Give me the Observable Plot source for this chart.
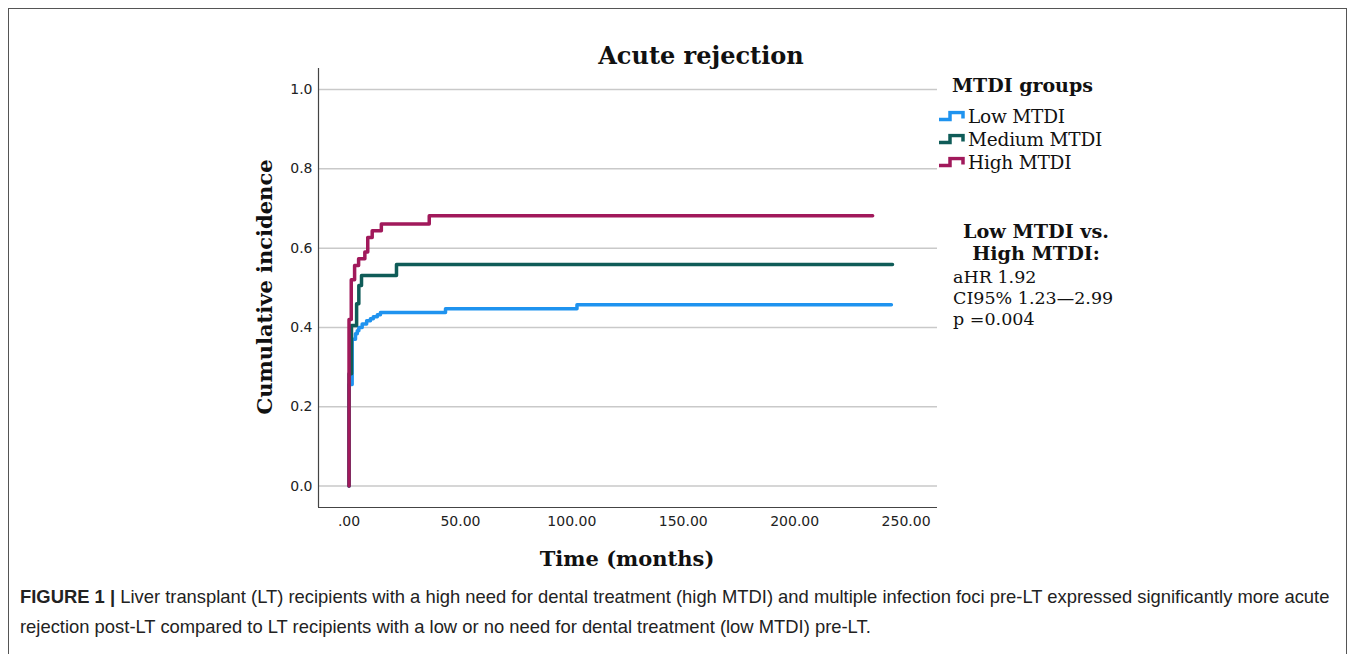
<!DOCTYPE html>
<html><head><meta charset="utf-8">
<script src="https://cdn.jsdelivr.net/npm/d3@7"></script>
<script src="https://cdn.jsdelivr.net/npm/@observablehq/plot@0.6"></script>
<style>
body{margin:0;background:#fff;}
#wrap{position:relative;width:1355px;height:654px;overflow:hidden;background:#fff;}
#frame{position:absolute;left:8px;top:8px;width:1339px;height:700px;border:1.5px solid #555;box-sizing:border-box;}
#chart{position:absolute;left:0;top:0;}
.serif{font-family:"DejaVu Serif",serif;color:#111;position:absolute;white-space:nowrap;}
#title{left:701px;top:55px;transform:translate(-50%,-50%);font-weight:bold;font-size:24px;}
#ylab{left:264px;top:287px;transform:translate(-50%,-50%) rotate(-90deg);font-weight:bold;font-size:21px;}
#xlab{left:627px;top:558px;transform:translate(-50%,-50%);font-weight:bold;font-size:21px;}
#legtitle{left:952px;top:85px;transform:translateY(-50%);font-weight:bold;font-size:19px;}
.legitem{left:939px;transform:translateY(-50%);font-size:18.5px;display:flex;align-items:center;letter-spacing:-0.2px;}
.legitem svg{margin-right:2px;}
.bold{font-weight:bold;font-size:19.2px;transform:translate(-50%,-50%);left:1036px;}
.stat{font-size:17.5px;left:953px;transform:translateY(-50%);}
.capline{position:absolute;left:20px;font-family:"Liberation Sans",Arial,sans-serif;font-size:18.4px;line-height:30px;color:#222;white-space:nowrap;transform:translateY(-50%);}
</style></head>
<body>
<div id="wrap">
<div id="frame"></div>
<div id="chart"></div>
</div>
<script>
// ---- data ----
const groups = ["Low MTDI", "Medium MTDI", "High MTDI"];
const colors = ["#1f93ef", "#0f5c58", "#a1195b"];
const lowTime   = [0, 0, 1.4, 2.9, 3.7, 4.4, 5.9, 7.9, 9.6, 10.9, 12.7, 14.1, 43.3, 102.3, 243.4];
const lowValue  = [0, 0.256, 0.37, 0.384, 0.392, 0.40, 0.409, 0.417, 0.422, 0.427, 0.432, 0.438, 0.447, 0.457, 0.457];
const mediumTime  = [0, 0, 1.1, 3.4, 4.4, 5.6, 21.3, 243.9];
const mediumValue = [0, 0.283, 0.405, 0.46, 0.506, 0.531, 0.559, 0.559];
const highTime  = [0, 0, 1.0, 2.5, 4.3, 7.1, 8.4, 10.4, 14.5, 36.0, 235.0];
const highValue = [0, 0.42, 0.52, 0.556, 0.573, 0.59, 0.627, 0.644, 0.661, 0.682, 0.682];
const xTicks = [0, 50, 100, 150, 200, 250];
const yTicks = [0, 0.2, 0.4, 0.6, 0.8, 1.0];
const chartTitle = "Acute rejection";
const xTitle = "Time (months)";
const yTitle = "Cumulative incidence";
const legendTitle = "MTDI groups";
const statHeader = ["Low MTDI vs.", "High MTDI:"];
const statLines = ["aHR 1.92", "CI95% 1.23\u20142.99", "p =0.004"];
const captionBold = "FIGURE 1 |";
const captionLines = [
  " Liver transplant (LT) recipients with a high need for dental treatment (high MTDI) and multiple infection foci pre-LT expressed significantly more acute",
  "rejection post-LT compared to LT recipients with a low or no need for dental treatment (low MTDI) pre-LT."
];

// ---- build table ----
const series = [[lowTime, lowValue], [mediumTime, mediumValue], [highTime, highValue]];
const data = [];
series.forEach(([ts, vs], i) => ts.forEach((t, j) => data.push({group: groups[i], t, v: vs[j]})));

const xMin = -13.7, xMax = 264.1, yMin = -0.054, yMax = 1.053;

const plot = Plot.plot({
  width: 1355, height: 580,
  marginLeft: 318, marginRight: 418, marginTop: 68, marginBottom: 73,
  x: {domain: [xMin, xMax], ticks: xTicks, tickFormat: d => d === 0 ? ".00" : d.toFixed(2), tickSize: 0, tickPadding: 9, label: null},
  y: {domain: [yMin, yMax], ticks: yTicks, tickFormat: d => d.toFixed(1), tickSize: 0, tickPadding: 6, label: null},
  color: {domain: groups, range: colors},
  style: {fontFamily: "DejaVu Sans", fontSize: "14px", color: "#222", background: "transparent"},
  marks: [
    Plot.gridY(yTicks, {stroke: "#c9c9c9", strokeOpacity: 1, strokeWidth: 1.5}),
    Plot.line(data, {x: "t", y: "v", z: "group", stroke: "group", curve: "step-after", strokeWidth: 3.5}),
    Plot.ruleX([xMin], {stroke: "#444", strokeWidth: 1.2}),
    Plot.ruleY([yMin], {stroke: "#444", strokeWidth: 1.2})
  ]
});
document.getElementById("chart").appendChild(plot);

const wrap = document.getElementById("wrap");
function addDiv(cls, id, text, top) {
  const d = document.createElement("div");
  d.className = cls; if (id) d.id = id;
  d.textContent = text;
  if (top != null) d.style.top = top + "px";
  wrap.appendChild(d);
  return d;
}
addDiv("serif", "title", chartTitle);
addDiv("serif", "ylab", yTitle);
addDiv("serif", "xlab", xTitle);
addDiv("serif", "legtitle", legendTitle);
const legTops = [116, 139, 162];
groups.forEach((g, i) => {
  const d = addDiv("serif legitem", null, "", legTops[i]);
  d.innerHTML = `<svg width="27" height="12"><path d="M0,9 H11 V2 H24 V8" fill="none" stroke="${colors[i]}" stroke-width="3.5"/></svg><span>${g}</span>`;
});
addDiv("serif bold", null, statHeader[0], 231);
addDiv("serif bold", null, statHeader[1], 253);
const statTops = [277, 298, 319];
statLines.forEach((s, i) => addDiv("serif stat", null, s, statTops[i]));

const cap1 = addDiv("capline", null, "", 597);
cap1.innerHTML = `<b>${captionBold}</b>${captionLines[0]}`;
addDiv("capline", null, captionLines[1], 627);
</script>
</body></html>
